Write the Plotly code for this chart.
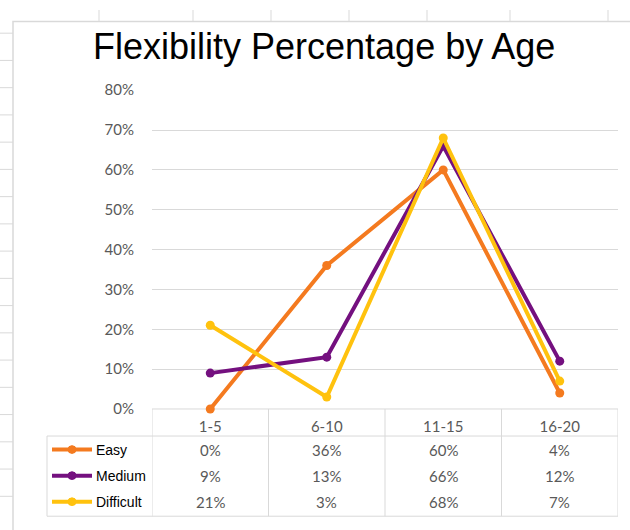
import plotly.graph_objects as go

# ---- data -------------------------------------------------------------
categories = ["1-5", "6-10", "11-15", "16-20"]
series_names = ["Easy", "Medium", "Difficult"]
easy = [0, 36, 60, 4]
medium = [9, 13, 66, 12]
difficult = [21, 3, 68, 7]
y_ticks = [0, 10, 20, 30, 40, 50, 60, 70, 80]

series_values = [easy, medium, difficult]
series_colors = ["#F47A1F", "#74107F", "#FFC20E"]

# ---- canvas geometry (pixels) ----------------------------------------
W, H = 630, 530
PLOT_L, PLOT_R = 152, 618
PLOT_T, PLOT_B = 83, 413
TABLE_L, HEADER_B, TABLE_B = 47, 441, 524
ROW_Y = [455, 482, 509]
GRID = "#D9D9D9"
TEXT_GRAY = "#595959"


def px(x):
    return x / W


def py(y):
    return 1 - y / H


fig = go.Figure()

for name, vals, col in zip(series_names, series_values, series_colors):
    fig.add_trace(go.Scatter(
        x=categories, y=vals, name=name, mode="lines+markers",
        line=dict(color=col, width=4),
        marker=dict(color=col, size=9),
        cliponaxis=False,
        showlegend=False,
        hovertemplate="%{x}: %{y}%<extra>" + name + "</extra>",
    ))

shapes = []
annotations = []

# spreadsheet cell lines around the chart frame
row_lines = [24 + 28.2 * k for k in range(18)]
for y in row_lines:
    shapes.append(dict(type="line", xref="paper", yref="paper",
                       x0=px(0), x1=px(13), y0=py(y), y1=py(y),
                       line=dict(color=GRID, width=1), layer="below"))
for x in [99, 193, 271, 349, 427, 510, 608]:
    shapes.append(dict(type="line", xref="paper", yref="paper",
                       x0=px(x), x1=px(x), y0=py(0), y1=py(12),
                       line=dict(color=GRID, width=1), layer="below"))
# chart frame
shapes.append(dict(type="rect", xref="paper", yref="paper",
                   x0=px(13), x1=px(660), y0=py(12), y1=py(560),
                   line=dict(color=GRID, width=1.5), fillcolor="white",
                   layer="below"))

# data table under the plot
line_style = dict(color=GRID, width=1)
shapes.append(dict(type="line", xref="paper", yref="paper",
                   x0=px(PLOT_L), x1=px(PLOT_R), y0=py(PLOT_B), y1=py(PLOT_B),
                   line=line_style, layer="below"))
shapes.append(dict(type="line", xref="paper", yref="paper",
                   x0=px(TABLE_L), x1=px(PLOT_R), y0=py(HEADER_B), y1=py(HEADER_B),
                   line=line_style))
shapes.append(dict(type="line", xref="paper", yref="paper",
                   x0=px(TABLE_L), x1=px(PLOT_R), y0=py(TABLE_B), y1=py(TABLE_B),
                   line=line_style))
shapes.append(dict(type="line", xref="paper", yref="paper",
                   x0=px(TABLE_L), x1=px(TABLE_L), y0=py(HEADER_B), y1=py(TABLE_B),
                   line=line_style))
for k in range(len(categories) + 1):
    shapes.append(dict(type="line", xref="x", yref="paper",
                       x0=k - 0.5, x1=k - 0.5, y0=py(PLOT_B), y1=py(TABLE_B),
                       line=line_style))

for r, (name, vals, col) in enumerate(zip(series_names, series_values, series_colors)):
    y = ROW_Y[r]
    # legend key: line with a dot in the middle
    shapes.append(dict(type="line", xref="paper", yref="paper",
                       x0=px(52), x1=px(92), y0=py(y), y1=py(y),
                       line=dict(color=col, width=4)))
    shapes.append(dict(type="circle", xref="paper", yref="paper",
                       x0=px(68), x1=px(76), y0=py(y - 4), y1=py(y + 4),
                       line=dict(color=col, width=1), fillcolor=col))
    annotations.append(dict(xref="paper", yref="paper", x=px(94), y=py(y),
                            xanchor="left", yanchor="middle", showarrow=False,
                            text=name,
                            font=dict(family="Liberation Sans", size=14, color="black")))
    for i, v in enumerate(vals):
        annotations.append(dict(xref="x", yref="paper", x=i, y=py(y),
                                xanchor="center", yanchor="middle", showarrow=False,
                                text=f"{v}%",
                                font=dict(family="Lato", size=15, color=TEXT_GRAY)))

annotations.append(dict(xref="paper", yref="paper", x=px(324), y=py(38),
                        xanchor="center", yanchor="middle", showarrow=False,
                        text="Flexibility Percentage by Age",
                        font=dict(family="Liberation Sans", size=36, color="black")))

fig.update_layout(
    width=W, height=H,
    margin=dict(l=0, r=0, t=0, b=0),
    paper_bgcolor="white", plot_bgcolor="white",
    shapes=shapes, annotations=annotations,
    xaxis=dict(domain=[px(PLOT_L), px(PLOT_R)], type="category",
               range=[-0.5, len(categories) - 0.5],
               showgrid=False, zeroline=False, showline=False,
               ticks="outside", ticklen=4, tickcolor="rgba(0,0,0,0)",
               tickfont=dict(family="Lato", size=15, color=TEXT_GRAY),
               fixedrange=True),
    yaxis=dict(domain=[py(PLOT_B), py(PLOT_T)], range=[0, 80],
               tickvals=y_ticks, ticktext=[f"{t}%" for t in y_ticks],
               showgrid=True, gridcolor=GRID, gridwidth=1,
               zeroline=False, showline=False,
               ticks="outside", ticklen=14, tickcolor="rgba(0,0,0,0)",
               tickfont=dict(family="Lato", size=15, color=TEXT_GRAY),
               fixedrange=True),
)

fig.write_html("out.html")
